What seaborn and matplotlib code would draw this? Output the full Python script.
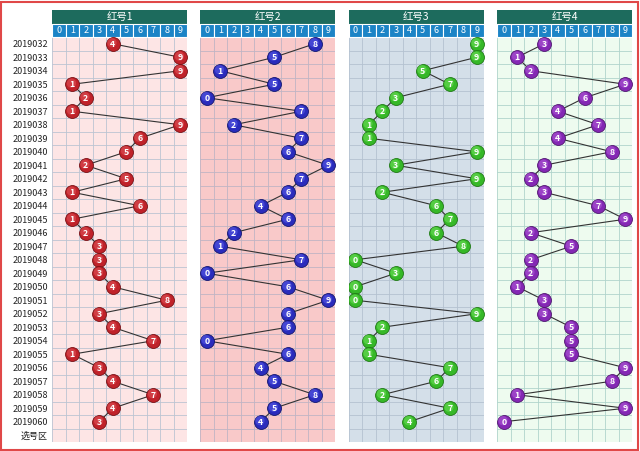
import matplotlib
matplotlib.use("Agg")
import matplotlib.pyplot as plt
from matplotlib.patches import Rectangle
import seaborn as sns
import pandas as pd

sns.set_theme(style="white")
plt.rcParams['font.family'] = ['Noto Sans CJK SC', 'DejaVu Sans']

periods = ["2019032", "2019033", "2019034", "2019035", "2019036", "2019037", "2019038",
           "2019039", "2019040", "2019041", "2019042", "2019043", "2019044", "2019045",
           "2019046", "2019047", "2019048", "2019049", "2019050", "2019051", "2019052",
           "2019053", "2019054", "2019055", "2019056", "2019057", "2019058", "2019059",
           "2019060"]
extra_row = "选号区"
titles = ["红号1", "红号2", "红号3", "红号4"]
digits = [0, 1, 2, 3, 4, 5, 6, 7, 8, 9]

red1 = [4, 9, 9, 1, 2, 1, 9, 6, 5, 2, 5, 1, 6, 1, 2, 3, 3, 3, 4, 8, 3, 4, 7, 1, 3, 4, 7, 4, 3]
red2 = [8, 5, 1, 5, 0, 7, 2, 7, 6, 9, 7, 6, 4, 6, 2, 1, 7, 0, 6, 9, 6, 6, 0, 6, 4, 5, 8, 5, 4]
red3 = [9, 9, 5, 7, 3, 2, 1, 1, 9, 3, 9, 2, 6, 7, 6, 8, 0, 3, 0, 0, 9, 2, 1, 1, 7, 6, 2, 7, 4]
red4 = [3, 1, 2, 9, 6, 4, 7, 4, 8, 3, 2, 3, 7, 9, 2, 5, 2, 2, 1, 3, 3, 5, 5, 5, 9, 8, 1, 9, 0]
series = [red1, red2, red3, red4]

bg_colors = ["#fde5e5", "#f9c9c9", "#d4dfe9", "#eefbef"]
grid_colors = ["#bcc4d2", "#c0b4c4", "#b4c2d0", "#b0d4cc"]
ball_colors = ["#c0222a", "#2a2cbc", "#36b828", "#8428b4"]
ball_hi = ["#e0555a", "#5a5ce8", "#6ee05a", "#b05ad8"]
ball_edges = ["#7a1014", "#15156e", "#1f7a14", "#521670"]
header_color = "#1d6b5d"
digit_color = "#1c84c6"

W, H = 640, 451
fig = plt.figure(figsize=(W / 100, H / 100), dpi=100)
fig.patch.set_facecolor("white")

lefts = [52, 200, 348.5, 497]
pw = 135
top_px, bot_px = 10, 442
nrows = len(periods) + 1

for i, (vals, title) in enumerate(zip(series, titles)):
    ax = fig.add_axes([lefts[i] / W, 1 - bot_px / H, pw / W, (bot_px - top_px) / H])
    ax.set_xlim(-0.5, 9.5)
    ax.set_ylim(nrows - 0.5, -2.5)
    ax.set_facecolor("white")
    ax.add_patch(Rectangle((-0.5, -0.5), 10, nrows, facecolor=bg_colors[i], edgecolor="none", zorder=0))
    ax.add_patch(Rectangle((-0.5, -2.5), 10, 1, facecolor=header_color, edgecolor="none", zorder=1))
    ax.text(4.5, -2.0, title, color="white", ha="center", va="center", fontsize=7.5, zorder=2)
    for d in digits:
        ax.add_patch(Rectangle((d - 0.5, -1.5), 1, 1, facecolor=digit_color, edgecolor="white",
                               linewidth=0.8, zorder=1))
        ax.text(d, -1.0, str(d), color="white", ha="center", va="center", fontsize=6.5, zorder=2)
    for gx in range(11):
        ax.plot([gx - 0.5, gx - 0.5], [-0.5, nrows - 0.5], color=grid_colors[i], lw=0.6, zorder=0.5)
    for gy in range(nrows + 1):
        ax.plot([-0.5, 9.5], [gy - 0.5, gy - 0.5], color=grid_colors[i], lw=0.6, zorder=0.5)
    df = pd.DataFrame({"num": vals, "row": list(range(len(vals)))})
    sns.lineplot(data=df, x="num", y="row", sort=False, estimator=None, color="#333333",
                 lw=0.8, ax=ax, zorder=3)
    sns.scatterplot(data=df, x="num", y="row", s=100, color=ball_colors[i],
                    edgecolor=ball_edges[i], linewidth=0.6, ax=ax, zorder=4)
    hi = df.assign(num=df["num"] - 0.06, row=df["row"] - 0.08)
    sns.scatterplot(data=hi, x="num", y="row", s=45, color=ball_hi[i], edgecolor="none",
                    alpha=0.55, ax=ax, zorder=4.5)
    for r, v in enumerate(vals):
        ax.text(v, r + 0.05, str(v), color="white", ha="center", va="center", fontsize=6.3,
                fontweight="bold", zorder=5)
    for s in ax.spines.values():
        s.set_visible(False)
    ax.set_xlabel("")
    ax.set_ylabel("")
    ax.set_xticks([])
    if i == 0:
        ax.set_yticks(list(range(nrows)))
        ax.set_yticklabels(periods + [extra_row], fontsize=6.5, color="#222222")
        ax.tick_params(axis="y", length=0, pad=3)
    else:
        ax.set_yticks([])

fig.add_artist(Rectangle((0.5 / W, 1.5 / H), (W - 3) / W, (H - 3) / H, transform=fig.transFigure,
                         facecolor="none", edgecolor="#e04848", linewidth=1.5))

fig.savefig("out.png", dpi=100)
